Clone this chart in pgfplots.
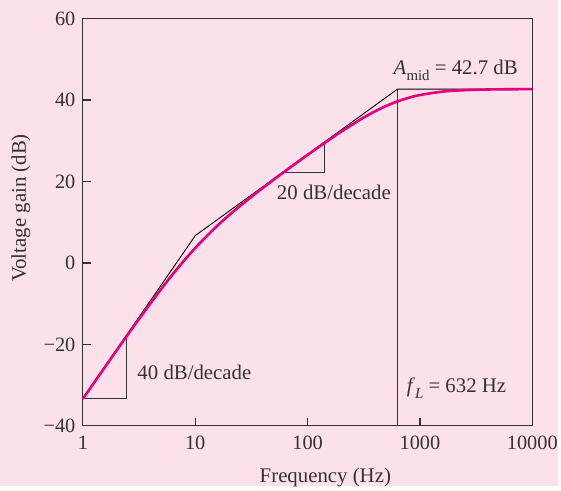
\documentclass[border=0pt]{standalone}
\usepackage{pgfplots}
\pgfplotsset{compat=1.18}
\usepackage{fontspec}
\setmainfont{Liberation Serif}
\definecolor{bgpink}{RGB}{252,224,234}
\definecolor{curve}{RGB}{230,0,126}
\definecolor{ink}{RGB}{51,51,51}
\begin{document}
\begin{tikzpicture}
\fill[bgpink] (-83.3bp,-60bp) rectangle (477.7bp,428bp);
\begin{axis}[
  at={(0,0)}, anchor=south west,
  scale only axis, width=451.7bp, height=409.3bp,
  xmode=log, xmin=1, xmax=10000, ymin=-40, ymax=60,
  axis line style={ink, line width=1.2bp},
  every tick/.style={ink, line width=1.2bp},
  tick align=inside, tick pos=left, major tick length=8bp,
  minor tick num=0, xminorticks=false,
  xtick={1,10,100,1000,10000},
  xticklabels={1,10,100,1000,10000},
  ytick={-40,-20,0,20,40,60},
  yticklabels={−40,−20,0,20,40,60},
  tick label style={font=\fontsize{20.5}{24}\selectfont, text=ink},
  xticklabel style={yshift=-7bp},
  yticklabel style={xshift=-4bp},
  xlabel={Frequency (Hz)},
  ylabel={Voltage gain (dB)},
  label style={font=\fontsize{21}{25}\selectfont, text=ink},
  xlabel style={at={(axis description cs:0.5395,-0.139)}, anchor=base},
  ylabel style={at={(axis description cs:-0.138,0.535)}, anchor=center},
  clip=false,
]
% asymptotic (Bode) approximation
\addplot[black, line width=0.9bp] coordinates {(1,-33.3) (10,6.7) (632,42.7) (10000,42.7)};
% f_L vertical line
\addplot[ink, line width=1bp] coordinates {(632,-40) (632,42.7)};
% 40 dB/decade triangle
\addplot[ink, line width=1bp] coordinates {(1,-33.3) (2.42,-33.3) (2.42,-18.2)};
% 20 dB/decade triangle
\addplot[ink, line width=1bp] coordinates {(58.9,22.1) (142.6,22.1) (142.6,29.8)};
% actual response
\addplot[curve, line width=2.6bp, smooth] coordinates {
(1,-33.36) (1.5,-26.37) (2,-21.44) (3,-14.60) (5,-6.33) (7,-1.24)
(10,3.67) (15,8.61) (20,11.73) (30,15.76) (50,20.47) (70,23.45)
(100,26.54) (150,29.95) (200,32.28) (300,35.34) (400,37.26) (500,38.55)
(632,39.69) (800,40.59) (1000,41.24) (1500,41.99) (2000,42.29)
(3000,42.51) (5000,42.63) (10000,42.68)};
\node[anchor=base west, inner sep=0, text=ink, font=\fontsize{21}{25}\selectfont] at (axis cs:3.05,-28.7) {40 dB/decade};
\node[anchor=base west, inner sep=0, text=ink, font=\fontsize{21}{25}\selectfont] at (axis cs:53.2,15.46) {20 dB/decade};
\node[anchor=base west, inner sep=0, text=ink, font=\fontsize{21}{25}\selectfont] at (axis cs:582,46.2) {\textit{A}\raisebox{-0.28em}{\fontsize{15}{15}\selectfont mid} = 42.7 dB};
\node[anchor=base west, inner sep=0, text=ink, font=\fontsize{21}{25}\selectfont] at (axis cs:762,-31.9) {\textit{f}\raisebox{-0.25em}{\fontsize{15}{15}\selectfont\textit{L}} = 632 Hz};
\end{axis}
\end{tikzpicture}
\end{document}
